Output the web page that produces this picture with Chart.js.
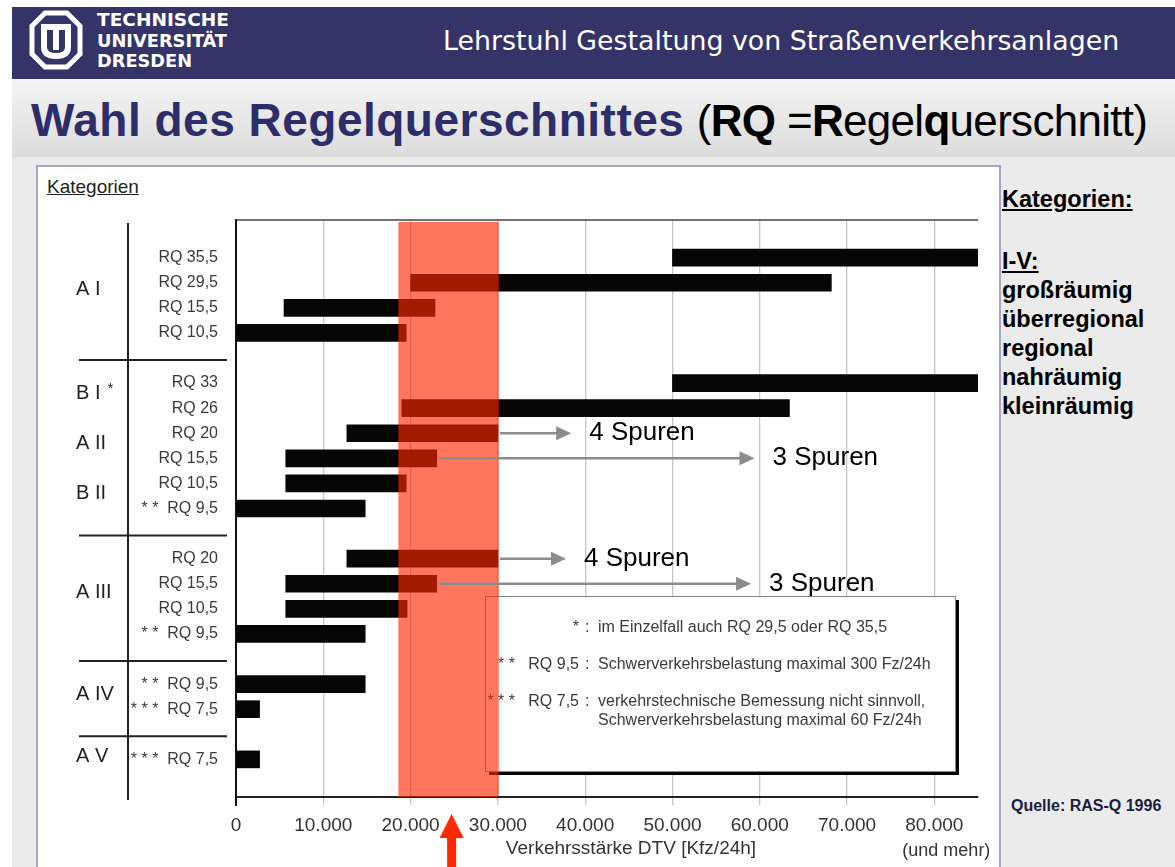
<!DOCTYPE html>
<html>
<head>
<meta charset="utf-8">
<script src="https://cdn.jsdelivr.net/npm/chart.js@4.4.1/dist/chart.umd.min.js"></script>
<style>
  body { margin: 0; width: 1175px; height: 867px; overflow: hidden; background: #fff; position: relative;
         font-family: "Liberation Sans", Arial, sans-serif; }
  #header { position: absolute; left: 12px; top: 7px; width: 1163px; height: 72px; background: #353468; }
  #chair { position: absolute; left: 431px; top: 18px; color: #fff; white-space: nowrap;
           font-family: "DejaVu Sans", Tahoma, sans-serif; font-size: 26.8px; }
  #logo { position: absolute; left: 0; top: 0; }
  #titlebar { position: absolute; left: 12px; top: 79px; width: 1163px; height: 78px;
              background: linear-gradient(#f4f4f4, #dcdcdc); }
  #title { position: absolute; left: 19px; top: 18px; white-space: nowrap; line-height: 46px; }
  #title .main { color: #2d2d6a; font-weight: bold; font-size: 46px; letter-spacing: 0.5px; }
  #title .sub { color: #000; font-size: 44px; letter-spacing: -0.7px; margin-left: 8px; }
  #main { position: absolute; left: 12px; top: 157px; width: 1163px; height: 710px; background: #ebebeb; }
  #box { position: absolute; left: 36px; top: 165px; width: 961px; height: 720px; background: #fff;
         border: 2px solid #a4a4c8; }
  #kat { position: absolute; left: 47px; top: 176px; font-size: 19px; color: #222; text-decoration: underline; }
  #chart { position: absolute; left: 36px; top: 165px; }
  .side { position: absolute; left: 1002px; font-weight: bold; font-size: 23.5px; line-height: 29px; color: #000; }
  .side u { text-decoration: underline; }
  #quelle { position: absolute; left: 1011px; top: 797px; font-weight: bold; font-size: 16px; color: #1c1c3c; }
</style>
</head>
<body>
<div id="header">
  <div id="chair">Lehrstuhl Gestaltung von Straßenverkehrsanlagen</div>
</div>
<svg id="logo" width="240" height="80">
  <polygon points="45,13 67,13 80,26 80,54 67,67 45,67 32,54 32,26" fill="none" stroke="#fff" stroke-width="5"/>
  <rect x="41" y="24" width="30" height="6" fill="#fff"/>
  <path d="M44 30 V47 Q44 56 56 56 Q68 56 68 47 V30" fill="none" stroke="#fff" stroke-width="6"/>
  <rect x="53" y="30" width="6" height="20" fill="#fff"/>
  <g fill="#fff" font-family="DejaVu Sans Condensed, DejaVu Sans, sans-serif" font-weight="bold" font-size="18">
    <text x="97" y="26" textLength="132" lengthAdjust="spacingAndGlyphs">TECHNISCHE</text>
    <text x="97" y="47" textLength="130" lengthAdjust="spacingAndGlyphs">UNIVERSITÄT</text>
    <text x="97" y="67" textLength="95" lengthAdjust="spacingAndGlyphs">DRESDEN</text>
  </g>
</svg>
<div id="titlebar">
  <div id="title"><span class="main">Wahl des Regelquerschnittes</span> <span class="sub">(<b>RQ</b> =<b>R</b>egel<b>q</b>uerschnitt)</span></div>
</div>
<div id="main"></div>
<div id="box"></div>
<div id="kat">Kategorien</div>
<canvas id="chart" width="963" height="702"></canvas>
<div class="side" style="top:185px"><u>Kategorien:</u></div>
<div class="side" style="top:247px"><u>I-V:</u><br>großräumig<br>überregional<br>regional<br>nahräumig<br>kleinräumig</div>
<div id="quelle">Quelle: RAS-Q 1996</div>

<script>
// rows of the diagram (blank rows separate the categories)
const rowLabels = ['', 'RQ 35,5', 'RQ 29,5', 'RQ 15,5', 'RQ 10,5', '',
  'RQ 33', 'RQ 26', 'RQ 20', 'RQ 15,5', 'RQ 10,5', '* *  RQ 9,5', '',
  'RQ 20', 'RQ 15,5', 'RQ 10,5', '* *  RQ 9,5', '',
  '* *  RQ 9,5', '* * *  RQ 7,5', '', '* * *  RQ 7,5', ''];
const barStart = [null, 50000, 20000, 5500, 0, null,
  50000, 19000, 12700, 5700, 5700, 0, null,
  12700, 5700, 5700, 0, null,
  0, 0, null, 0, null];
const barEnd = [null, 85000, 68200, 22800, 19500, null,
  85000, 63400, 30000, 23000, 19500, 14800, null,
  30000, 23000, 19600, 14800, null,
  14800, 2700, null, 2700, null];

const groupNames = ['A I', 'B I', 'A II', 'B II', 'A III', 'A IV', 'A V'];
const groupRows = [2.25, 6.4, 8.4, 10.4, 14.33, 18.4, 20.9];
const separatorRows = [5, 12, 17, 20];

const xTicks = [0, 10000, 20000, 30000, 40000, 50000, 60000, 70000, 80000];
const highlightBand = [18600, 30100];
const markerValue = 24700;

const laneRows = [8, 9, 13, 14];
const laneFrom = [30000, 23000, 30000, 23000];
const laneTo = [38400, 59400, 37800, 59000];
const laneLabels = ['4 Spuren', '3 Spuren', '4 Spuren', '3 Spuren'];

const noteMarks = ['*', '* *   RQ 9,5', '* * *   RQ 7,5', ''];
const noteColons = [':', ':', ':', ''];
const noteTexts = ['im Einzelfall auch RQ 29,5 oder RQ 35,5',
  'Schwerverkehrsbelastung maximal 300 Fz/24h',
  'verkehrstechnische Bemessung nicht sinnvoll,',
  'Schwerverkehrsbelastung maximal 60 Fz/24h'];

Chart.defaults.font.family = '"Liberation Sans", Arial, sans-serif';

function fmt(v) {
  return v === 0 ? '0' : (v / 1000) + '.000';
}

const overlay = {
  id: 'overlay',
  beforeDatasetsDraw(chart) {
    const { ctx, chartArea: a } = chart;
    ctx.save();
    ctx.strokeStyle = '#444';
    ctx.lineWidth = 1.5;
    ctx.beginPath();
    ctx.moveTo(a.left, a.top);
    ctx.lineTo(a.right, a.top);
    ctx.stroke();
    ctx.strokeStyle = '#111';
    ctx.lineWidth = 2;
    ctx.beginPath();
    ctx.moveTo(a.left, a.top);
    ctx.lineTo(a.left, a.bottom + 9);
    ctx.stroke();
    ctx.restore();
  },
  afterDatasetsDraw(chart) {
    const { ctx, chartArea: a, scales: { x, y } } = chart;
    ctx.save();

    // footnote box
    const bx = a.left + 249, by = a.top + 376, bw = 470, bh = 175;
    ctx.fillStyle = '#000';
    ctx.fillRect(bx + 4, by + 4, bw, bh);
    ctx.fillStyle = '#fff';
    ctx.fillRect(bx, by, bw, bh);
    ctx.strokeStyle = '#888';
    ctx.lineWidth = 1;
    ctx.strokeRect(bx + 0.5, by + 0.5, bw, bh);
    const noteY = [32, 69, 106, 125];
    ctx.font = '16px "Liberation Sans", Arial, sans-serif';
    ctx.fillStyle = '#3a3a3a';
    ctx.textBaseline = 'middle';
    for (let i = 0; i < noteTexts.length; i++) {
      const yy = by + noteY[i];
      ctx.textAlign = 'right';
      ctx.fillText(noteMarks[i], bx + 94, yy);
      ctx.textAlign = 'left';
      ctx.fillText(noteColons[i], bx + 100, yy);
      ctx.fillText(noteTexts[i], bx + 113, yy);
    }

    // highlighted DTV range
    const b0 = x.getPixelForValue(highlightBand[0]);
    const b1 = x.getPixelForValue(highlightBand[1]);
    ctx.fillStyle = 'rgba(255, 38, 0, 0.63)';
    ctx.fillRect(b0, a.top + 2, b1 - b0, a.bottom - a.top - 2);

    // lane arrows
    for (let i = 0; i < laneRows.length; i++) {
      const yy = y.getPixelForValue(laneRows[i]);
      const x0 = x.getPixelForValue(laneFrom[i]) + 2;
      const x1 = x.getPixelForValue(laneTo[i]);
      ctx.strokeStyle = '#8c8c8c';
      ctx.fillStyle = '#8c8c8c';
      ctx.lineWidth = 2.5;
      ctx.beginPath();
      ctx.moveTo(x0, yy);
      ctx.lineTo(x1 - 12, yy);
      ctx.stroke();
      ctx.beginPath();
      ctx.moveTo(x1, yy);
      ctx.lineTo(x1 - 15, yy - 7);
      ctx.lineTo(x1 - 15, yy + 7);
      ctx.closePath();
      ctx.fill();
      ctx.fillStyle = '#000';
      ctx.font = '26px "Liberation Sans", Arial, sans-serif';
      ctx.textAlign = 'left';
      ctx.fillText(laneLabels[i], x1 + 18, yy);
    }

    // category column
    ctx.strokeStyle = '#222';
    ctx.lineWidth = 2;
    const colX = a.left - 108;
    ctx.beginPath();
    ctx.moveTo(colX, a.top + 3);
    ctx.lineTo(colX, a.bottom + 3);
    ctx.stroke();
    separatorRows.forEach(r => {
      const yy = y.getPixelForValue(r) + 2;
      ctx.beginPath();
      ctx.moveTo(a.left - 157, yy);
      ctx.lineTo(a.left - 9, yy);
      ctx.stroke();
    });
    ctx.fillStyle = '#222';
    ctx.textAlign = 'left';
    groupNames.forEach((g, i) => {
      const yy = y.getPixelForValue(groupRows[i]);
      ctx.font = '20px "Liberation Sans", Arial, sans-serif';
      ctx.fillText(g, a.left - 160, yy);
      if (g === 'B I') {
        const w = ctx.measureText(g).width;
        ctx.font = '15px "Liberation Sans", Arial, sans-serif';
        ctx.fillText('*', a.left - 160 + w + 7, yy - 4);
      }
    });

    // axis title and note
    ctx.fillStyle = '#333';
    ctx.textAlign = 'center';
    ctx.font = '19px "Liberation Sans", Arial, sans-serif';
    ctx.fillText('Verkehrsstärke DTV [Kfz/24h]', (a.left + a.right) / 2 + 24, a.bottom + 52);
    ctx.font = '18px "Liberation Sans", Arial, sans-serif';
    ctx.fillText('(und mehr)', x.getPixelForValue(xTicks[xTicks.length - 1]) + 12, a.bottom + 54);

    // red marker arrow below the axis
    const mx = x.getPixelForValue(markerValue);
    ctx.fillStyle = '#ff2a00';
    ctx.beginPath();
    ctx.moveTo(mx, a.bottom + 17);
    ctx.lineTo(mx + 12, a.bottom + 41);
    ctx.lineTo(mx + 4.5, a.bottom + 41);
    ctx.lineTo(mx + 4.5, chart.height);
    ctx.lineTo(mx - 4.5, chart.height);
    ctx.lineTo(mx - 4.5, a.bottom + 41);
    ctx.lineTo(mx - 12, a.bottom + 41);
    ctx.closePath();
    ctx.fill();

    ctx.restore();
  }
};

new Chart(document.getElementById('chart').getContext('2d'), {
  type: 'bar',
  data: {
    labels: rowLabels,
    datasets: [{
      data: rowLabels.map((l, i) => barStart[i] === null ? null : [barStart[i], barEnd[i]]),
      backgroundColor: '#060606',
      barThickness: 17,
      borderSkipped: false
    }]
  },
  options: {
    indexAxis: 'y',
    responsive: false,
    animation: false,
    devicePixelRatio: 1,
    layout: { padding: { top: 55, right: 21, left: 0, bottom: 0 } },
    plugins: { legend: { display: false }, tooltip: { enabled: false } },
    scales: {
      x: {
        min: 0,
        max: 85000,
        afterBuildTicks: s => { s.ticks = xTicks.map(v => ({ value: v })); },
        afterFit: s => { s.height = 70; },
        grid: { color: '#c6c6c6', lineWidth: 1.3, tickLength: 8 },
        border: { color: '#222', width: 2 },
        ticks: { padding: 9, color: '#333', font: { size: 19 }, maxRotation: 0, callback: v => fmt(v) }
      },
      y: {
        afterFit: s => { s.width = 200; },
        grid: { display: false, drawTicks: false },
        border: { color: '#111', width: 2 },
        ticks: { padding: 18, color: '#3a3a3a', font: { size: 16 }, autoSkip: false }
      }
    }
  },
  plugins: [overlay]
});
</script>
</body>
</html>
